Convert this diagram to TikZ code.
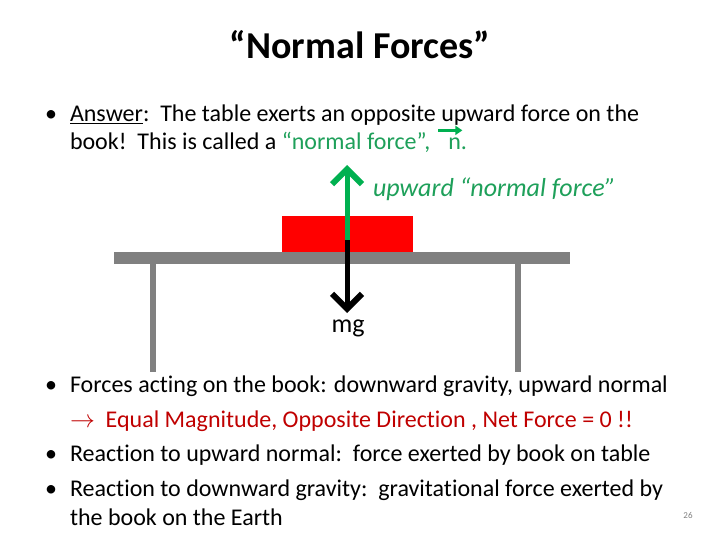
\documentclass[tikz,border=0pt]{standalone}
\usepackage{fontspec}
\setmainfont{Carlito}[Ligatures=NoCommon]
\usetikzlibrary{arrows.meta}
\definecolor{ngreen}{RGB}{0,176,80}
\definecolor{tgreen}{RGB}{30,160,90}
\definecolor{dred}{RGB}{192,0,0}
\definecolor{tablegray}{RGB}{128,128,128}
\begin{document}
\begin{tikzpicture}[x=1pt,y=-1pt,
  every node/.style={inner sep=0pt,outer sep=0pt},
  txt/.style={anchor=base west,font=\fontsize{24}{28}\selectfont},
  force/.style={line width=5pt,-{Straight Barb[length=15pt,width=30pt,line width=6pt]}}]
 \useasboundingbox[fill=white] (0,0) rectangle (720,540);
 % title
 \node[font=\fontsize{38}{42}\selectfont\bfseries] (title) at (360,45) {“Normal Forces”};
 % first bullet
 \node[txt] (b1) at (45,122) {•};
 \node[txt] (l1) at (70,122) {\underline{Answer}:\ \ The table exerts an opposite upward force on the};
 \node[txt] (l2) at (70,150) {book!\ \ This is called a \textcolor{tgreen}{“normal force”,}};
 \node[txt,text=tgreen] (nvec) at ([xshift=18pt]l2.base east) {n.};
 \draw[ngreen,line width=3pt,-{Triangle[length=7pt,width=9pt]}] ([xshift=-10pt,yshift=8pt]nvec.north west) -- ([xshift=14pt,yshift=8pt]nvec.north west);
 % table and book
 \node[fill=red,minimum width=131pt,minimum height=36pt] (book) at (347.5,234) {};
 \node[fill=tablegray,minimum width=456pt,minimum height=12pt,anchor=north west] (top) at (114,252) {};
 \fill[tablegray] (150,264) rectangle (156,372);
 \fill[tablegray] (515,264) rectangle (521,372);
 \coordinate (c) at (347,240);
 \coordinate (ntip) at (347,165);
 \coordinate (wtip) at (347,313);
 \draw[force,ngreen] (c) -- (ntip);
 \draw[force,black] (c) -- (wtip);
 \node[font=\fontsize{26}{30}\selectfont\itshape,text=tgreen,anchor=west] (nlabel) at (373,189) {upward “normal force”};
 \node[font=\fontsize{26}{30}\selectfont] (mg) at (348,328) {mg};
 % remaining bullets
 \node[txt] (b2) at (45,392) {•};
 \node[txt] (l3) at (70,392) {Forces acting on the book: downward gravity, upward normal};
 \node[txt,text=dred] (l4) at (70,427) {$\rightarrow$\ \ Equal Magnitude, Opposite Direction , Net Force = 0 !!};
 \node[txt] (b3) at (45,461) {•};
 \node[txt] (l5) at (70,461) {Reaction to upward normal:\ \ force exerted by book on table};
 \node[txt] (b4) at (45,496) {•};
 \node[txt] (l6) at (70,496) {Reaction to downward gravity:\ \ gravitational force exerted by};
 \node[txt] (l7) at (70,525) {the book on the Earth};
 \node[font=\fontsize{9}{10}\selectfont,text=tablegray] (page) at (688,515) {26};
\end{tikzpicture}
\end{document}
